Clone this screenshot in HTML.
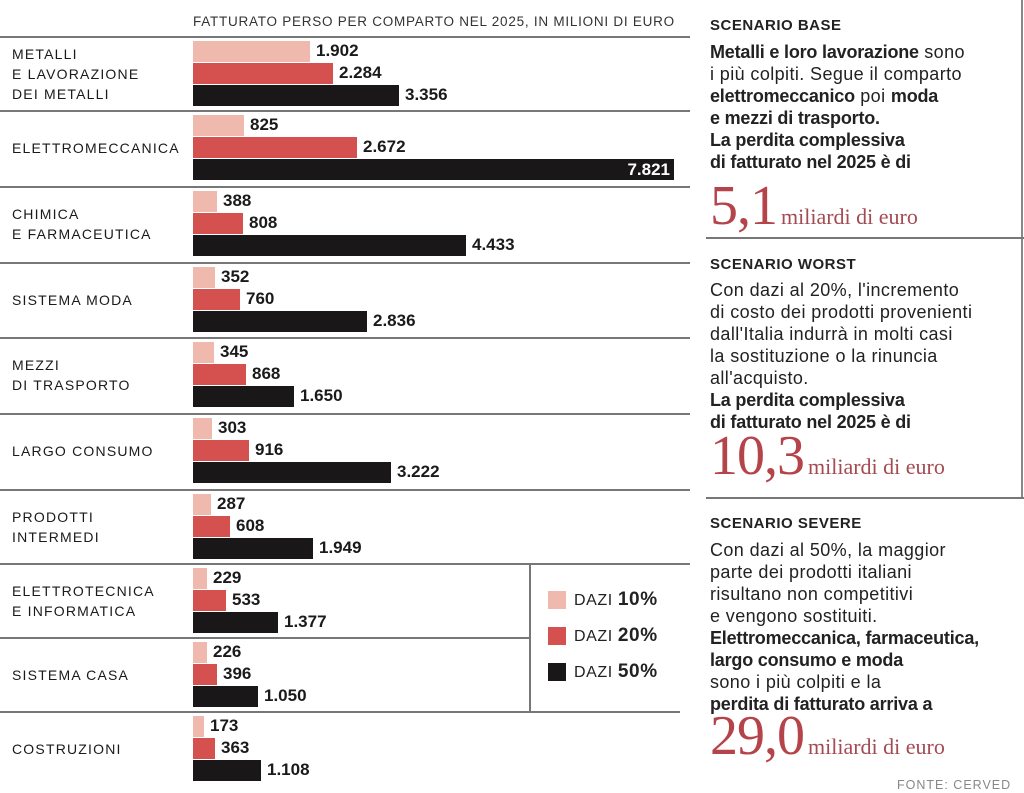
<!DOCTYPE html>
<html><head><meta charset="utf-8">
<style>
body{margin:0;width:1024px;height:793px;background:#fff;position:relative;overflow:hidden;font-family:"Liberation Sans",sans-serif;color:#222}
.a{position:absolute}
.hl{position:absolute;height:2px;background:#777}
.cat{position:absolute;left:12px;font-size:14px;letter-spacing:1.2px;line-height:20px;color:#1a1a1a}
.bar{position:absolute;left:193px;height:21px}
.v{position:absolute;font-size:17px;font-weight:bold;line-height:21px;color:#1a1a1a}
.rt{position:absolute;left:710px;font-size:18px;letter-spacing:0.4px;line-height:22px;color:#222;white-space:nowrap}
.rt b{letter-spacing:-0.2px}
.ttl{position:absolute;left:710px;font-size:15px;font-weight:bold;letter-spacing:0.5px;color:#222}
.big{position:absolute;left:710px;font-family:"Liberation Serif",serif;color:#b5434a;white-space:nowrap}
.big b{font-weight:normal;font-size:56px;letter-spacing:-1px}
.big span{font-size:22px;color:#a44a52}
.lg{position:absolute;left:548px;width:18px;height:18px}
.lt{position:absolute;left:574px;font-size:16px;letter-spacing:0.6px}
.lt b{font-size:19px}
</style></head><body>
<div class="a" style="left:193px;top:14px;font-size:13.5px;letter-spacing:0.75px;color:#333">FATTURATO PERSO PER COMPARTO NEL 2025, IN MILIONI DI EURO</div>
<div id="c"></div>
<div class="a" style="left:529px;top:563px;width:2px;height:148px;background:#777"></div>
<div class="lg" style="top:591px;background:#efb9ad"></div><div class="lt" style="top:589px">DAZI <b>10%</b></div>
<div class="lg" style="top:627px;background:#d4514f"></div><div class="lt" style="top:625px">DAZI <b>20%</b></div>
<div class="lg" style="top:663px;background:#1a1718"></div><div class="lt" style="top:661px">DAZI <b>50%</b></div>

<div class="a" style="left:1021px;top:0;width:2px;height:498px;background:#888"></div>
<div class="ttl" style="top:17px">SCENARIO BASE</div>
<div class="rt" style="top:41px"><b>Metalli e loro lavorazione</b> sono<br>i più colpiti. Segue il comparto<br><b>elettromeccanico</b> poi <b>moda</b><br><b>e mezzi di trasporto.</b><br><b>La perdita complessiva<br>di fatturato nel 2025 è di</b></div>
<div class="big" style="top:174px"><b>5,1</b> <span>miliardi di euro</span></div>
<div class="hl" style="left:706px;top:237px;width:318px"></div>
<div class="ttl" style="top:256px">SCENARIO WORST</div>
<div class="rt" style="top:279px">Con dazi al 20%, l'incremento<br>di costo dei prodotti provenienti<br>dall'Italia indurrà in molti casi<br>la sostituzione o la rinuncia<br>all'acquisto.<br><b>La perdita complessiva<br>di fatturato nel 2025 è di</b></div>
<div class="big" style="top:424px"><b>10,3</b> <span>miliardi di euro</span></div>
<div class="hl" style="left:706px;top:497px;width:318px"></div>
<div class="ttl" style="top:515px">SCENARIO SEVERE</div>
<div class="rt" style="top:539px">Con dazi al 50%, la maggior<br>parte dei prodotti italiani<br>risultano non competitivi<br>e vengono sostituiti.<br><b>Elettromeccanica, farmaceutica,<br>largo consumo e moda</b><br>sono i più colpiti e la<br><b>perdita di fatturato arriva a</b></div>
<div class="big" style="top:704px"><b>29,0</b> <span>miliardi di euro</span></div>
<div class="a" style="left:897px;top:778px;font-size:12.5px;letter-spacing:1px;color:#888">FONTE: CERVED</div>
<script>
var seps=[36,110,186,262,337,413,489,563,637,711];
var data=[
["METALLI<br>E LAVORAZIONE<br>DEI METALLI",[1902,2284,3356]],
["ELETTROMECCANICA",[825,2672,7821]],
["CHIMICA<br>E FARMACEUTICA",[388,808,4433]],
["SISTEMA MODA",[352,760,2836]],
["MEZZI<br>DI TRASPORTO",[345,868,1650]],
["LARGO CONSUMO",[303,916,3222]],
["PRODOTTI<br>INTERMEDI",[287,608,1949]],
["ELETTROTECNICA<br>E INFORMATICA",[229,533,1377]],
["SISTEMA CASA",[226,396,1050]],
["COSTRUZIONI",[173,363,1108]]];
var cols=["#efb9ad","#d4514f","#1a1718"];
var h="";
seps.forEach(function(s,i){
 h+='<div class="hl" style="left:0;top:'+s+'px;width:'+(i>=8?529:690)+'px"></div>';
});
h+='<div class="hl" style="left:529px;top:711px;width:151px"></div>';
data.forEach(function(d,i){
 var s=seps[i];
 var nl=(d[0].match(/<br>/g)||[]).length+1;
 var cy=s+2+36;
 h+='<div class="cat" style="top:'+(cy-nl*10)+'px">'+d[0]+'</div>';
 d[1].forEach(function(v,j){
  var t=s+5+j*22, w=Math.round(v*481/7821);
  h+='<div class="bar" style="top:'+t+'px;width:'+w+'px;background:'+cols[j]+'"></div>';
  var lab=v>=1000?(Math.floor(v/1000)+'.'+String(v%1000).padStart(3,'0')):String(v);
  if(v==7821) h+='<div class="v" style="top:'+t+'px;left:610px;width:60px;text-align:right;color:#fff">'+lab+'</div>';
  else h+='<div class="v" style="top:'+(t-1)+'px;left:'+(193+w+6)+'px">'+lab+'</div>';
 });
});
document.getElementById('c').innerHTML=h;
</script>
</body></html>
